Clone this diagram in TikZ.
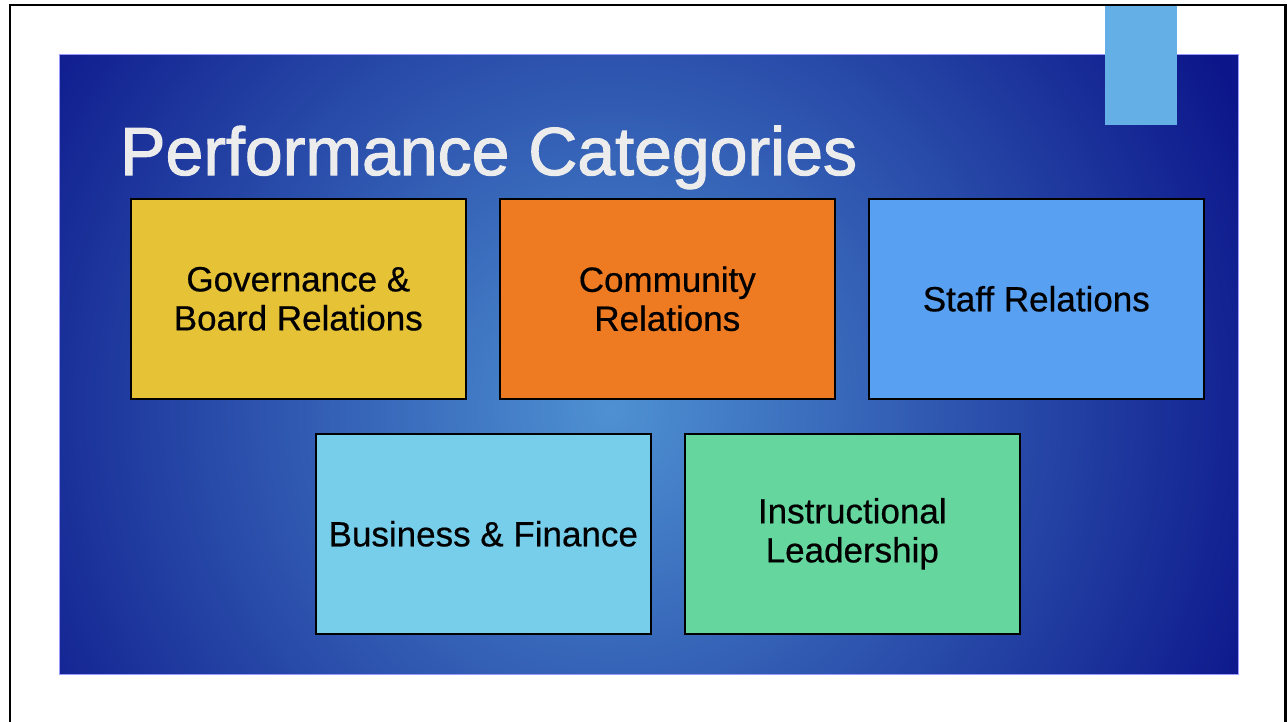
\documentclass[tikz,border=0pt]{standalone}
\usepackage{fontspec}
\setmainfont{Liberation Sans}
\newfontfamily\titlefont[FakeBold=1.6]{Liberation Sans}
\newfontfamily\boxfont[FakeBold=0.5]{Liberation Sans}
\begin{document}
\begin{tikzpicture}[x=1pt,y=-1pt,
  catbox/.style={draw=black, line width=1.6pt, minimum width=335pt, minimum height=200pt,
    anchor=north west, inner sep=0pt, align=center,
    font=\boxfont\fontsize{35}{39}\selectfont, text=black}]
\definecolor{bgdark}{RGB}{12,22,138}
\definecolor{bglight}{RGB}{78,145,210}
\definecolor{accent}{RGB}{100,176,230}
\definecolor{cyel}{RGB}{230,194,54}
\definecolor{corg}{RGB}{238,123,34}
\definecolor{cblu}{RGB}{88,160,242}
\definecolor{ccya}{RGB}{118,206,235}
\definecolor{cgrn}{RGB}{100,214,158}
\definecolor{titlegray}{RGB}{236,236,236}
\useasboundingbox (0,0) rectangle (1287,721);
\fill[white] (0,0) rectangle (1287,721);
% slide frame
\draw[line width=2.5pt, black] (10,735) -- (10,5) -- (1285.5,5) -- (1285.5,735);
% blue background
\begin{scope}
  \clip (59,54) rectangle (1238,674);
  \fill[bgdark] (59,54) rectangle (1238,674);
  \shade[inner color=bglight, outer color=bgdark] (610,410) circle (700);
\end{scope}
\draw[line width=0.8pt, blue!40!white] (59,54) rectangle (1238,674);
% accent rectangle
\fill[accent] (1105,6) rectangle (1177,125);
% title
\node[anchor=base west, inner sep=0pt, text=titlegray, font=\titlefont\fontsize{68}{70}\selectfont] (title) at (120,175) {Performance Categories};
% boxes
\node[catbox, fill=cyel] (gov) at (130,198) {Governance \&\\Board Relations};
\node[catbox, fill=corg] (com) at (499,198) {Community\\Relations};
\node[catbox, fill=cblu] (stf) at (868,198) {Staff Relations};
\node[catbox, fill=ccya] (bus) at (315,433) {Business \& Finance};
\node[catbox, fill=cgrn] (ins) at (684,433) {Instructional\\Leadership};
\end{tikzpicture}
\end{document}
